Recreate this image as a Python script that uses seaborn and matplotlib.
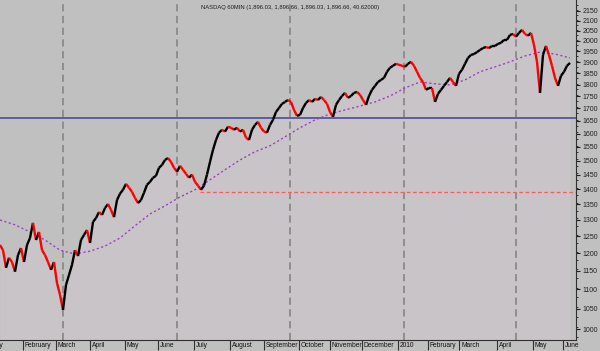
import numpy as np
import matplotlib
matplotlib.use('Agg')
import matplotlib.pyplot as plt
import matplotlib.transforms as mtransforms
from matplotlib.collections import LineCollection
from matplotlib.ticker import FixedLocator, FuncFormatter, NullFormatter
import seaborn as sns

# x unit = trading day; one price sample every 2 days, one MA sample every 10
PRICE_STEP = 2
MA_STEP = 10

PRICE = [1224, 1209, 1159, 1187, 1175, 1148, 1195, 1215, 1175, 1224,
         1245, 1291, 1239, 1263, 1209, 1195, 1175, 1153, 1175, 1117,
         1086, 1047, 1112, 1139, 1167, 1209, 1192, 1239, 1254, 1269,
         1230, 1294, 1306, 1325, 1316, 1338, 1351, 1332, 1309, 1364,
         1385, 1398, 1418, 1405, 1391, 1371, 1354, 1364, 1388, 1415,
         1425, 1439, 1446, 1474, 1484, 1502, 1509, 1495, 1474, 1460,
         1481, 1467, 1453, 1439, 1450, 1425, 1412, 1398, 1412, 1450,
         1495, 1539, 1576, 1604, 1615, 1608, 1627, 1623, 1615, 1623,
         1608, 1615, 1585, 1576, 1615, 1634, 1646, 1623, 1608, 1604,
         1634, 1654, 1686, 1702, 1719, 1727, 1735, 1727, 1694, 1670,
         1674, 1702, 1723, 1735, 1727, 1740, 1735, 1748, 1735, 1719,
         1686, 1666, 1715, 1735, 1752, 1765, 1744, 1752, 1765, 1769,
         1757, 1735, 1715, 1752, 1778, 1795, 1812, 1821, 1830, 1857,
         1875, 1884, 1893, 1888, 1884, 1879, 1893, 1902, 1884, 1857,
         1830, 1812, 1778, 1786, 1786, 1727, 1761, 1778, 1795, 1812,
         1830, 1812, 1795, 1848, 1866, 1893, 1920, 1934, 1938, 1947,
         1957, 1966, 1971, 1966, 1976, 1976, 1986, 1991, 2005, 2005,
         2029, 2034, 2020, 2039, 2054, 2034, 2025, 2039, 1981, 1902,
         1765, 1934, 1976, 1934, 1884, 1830, 1795, 1839, 1857, 1884,
         1897]

MA = [1300, 1285, 1263, 1239, 1209, 1198, 1206, 1221, 1245, 1282,
      1319, 1345, 1374, 1398, 1432, 1467, 1502, 1532, 1554, 1588,
      1623, 1654, 1678, 1694, 1710, 1727, 1752, 1786, 1812, 1804,
      1799, 1821, 1857, 1879, 1902, 1929, 1947, 1938, 1920]

MONTHS = ['January', 'February', 'March', 'April', 'May', 'June', 'July',
          'August', 'September', 'October', 'November', 'December', '2010',
          'February', 'March', 'April', 'May', 'June']
MONTH_START = [-15, 15, 37, 60, 83, 105, 129, 153, 176, 199, 220, 241, 265,
               285, 306, 331, 355, 375]

GRID_DAYS = [42, 118, 193, 269, 344]
BLUE_LEVEL = 1660
RED_LEVEL = 1391
RED_FROM = 133
Y_TICKS = list(range(1000, 2151, 50))
TITLE = 'NASDAQ 60MIN (1,896.03, 1,896.66, 1,896.03, 1,896.66, 40.62000)'

BG = '#c0c0c0'
FILL = '#c9c4c8'

sns.set_style('ticks')
plt.rcParams['font.family'] = ['Liberation Sans', 'DejaVu Sans']

fig = plt.figure(figsize=(6, 3.51), dpi=100, facecolor=BG)
ax = fig.add_axes([0, 11 / 351, 576 / 600, 340 / 351])
ax.set_facecolor(BG)

price = np.asarray(PRICE, dtype=float)
days = np.arange(len(price)) * PRICE_STEP
ma_days = np.arange(len(MA)) * MA_STEP

# area under price
ax.fill_between(days, price, 900, color=FILL, lw=0, zorder=1)

# vertical dashed grid
for d in GRID_DAYS:
    ax.axvline(d, color='#8a8a8a', lw=1.3, ls=(0, (4, 2.5)), zorder=2)

ax.axhline(BLUE_LEVEL, color='#4b4b9c', lw=1.2, zorder=3)
ax.plot([RED_FROM, 384], [RED_LEVEL, RED_LEVEL], color='#ff5a5a', lw=0.9,
        ls=(0, (3, 2)), zorder=3)

# moving average
sns.lineplot(x=ma_days, y=MA, ax=ax, color='#9a40c0', lw=1.0,
             ls=(0, (1.5, 1.8)), zorder=4)

# price, black up / red down
pts = np.column_stack([days, price])
segs = np.stack([pts[:-1], pts[1:]], axis=1)
cols = ['#000000' if b >= a else '#ff0000' for a, b in zip(price[:-1], price[1:])]
ax.add_collection(LineCollection(segs, colors=cols, lw=1.7, zorder=5,
                                 capstyle='butt'))

ax.set_yscale('log')
ax.set_xlim(0, 384)
ax.set_ylim(974, 2207)

ax.yaxis.tick_right()
ax.yaxis.set_major_locator(FixedLocator(Y_TICKS))
ax.yaxis.set_major_formatter(FuncFormatter(lambda v, p: f'{v:.0f}'))
ax.yaxis.set_minor_locator(FixedLocator([v for v in range(980, 2200, 25)
                                         if v % 50]))
ax.yaxis.set_minor_formatter(NullFormatter())
ax.tick_params(axis='y', which='major', length=3, width=0.8, labelsize=5,
               pad=2, colors='#202020')
ax.tick_params(axis='y', which='minor', length=1.5, width=0.6,
               colors='#202020')

ax.xaxis.set_major_locator(FixedLocator(MONTH_START))
ax.xaxis.set_minor_locator(FixedLocator([]))
ax.tick_params(axis='x', which='major', length=7, width=0.8, colors='#303030',
               labelbottom=False)

for s in ['top', 'left']:
    ax.spines[s].set_visible(False)
ax.spines['right'].set_color('#303030')
ax.spines['bottom'].set_color('#303030')

# month labels sit left-aligned in their boxes; January is cut by the edge
off = mtransforms.ScaledTranslation(2 / 100, -5.5 / 100, fig.dpi_scale_trans)
trans = mtransforms.blended_transform_factory(ax.transData, ax.transAxes) + off
for m, d in zip(MONTHS, MONTH_START):
    ax.text(d, 0, m, transform=trans, fontsize=4.8, ha='left', va='center',
            color='#101010', clip_on=False)

ax.text(0.503, 0.985, TITLE, transform=ax.transAxes, ha='center', va='top',
        fontsize=4.2, color='#202020')

fig.savefig('out.png', dpi=100, facecolor=BG)
